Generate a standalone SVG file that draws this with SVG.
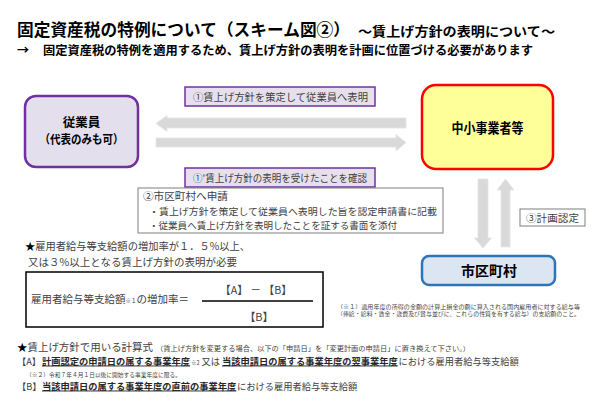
<svg xmlns="http://www.w3.org/2000/svg" width="600" height="402" viewBox="0 0 600 402">
<style>
text{font-family:"Noto Sans CJK JP","Noto Sans",sans-serif;fill:#404040}
.b{font-weight:700;fill:#000}
.lbl{font-size:10px}
.arrow{fill:#D9D9D9;stroke:#E4E4E4;stroke-width:0.8}
.pbox{fill:#E6E0EC;stroke:#7030A0;stroke-width:1.5}
.gbox{fill:#fff;stroke:#7F7F7F;stroke-width:1}
.u{text-decoration:underline;font-weight:700;fill:#262626}
.f{font-size:9.25px}
</style>
<rect width="600" height="402" fill="#fff"/>
<g id="title">
<text class="b" x="17" y="36" font-size="16.5" textLength="333" lengthAdjust="spacingAndGlyphs">固定資産税の特例について（スキーム図②）</text>
<text class="b" x="358" y="36" font-size="13" textLength="197" lengthAdjust="spacingAndGlyphs">～賃上げ方針の表明について～</text>
<text class="b" x="17" y="55" font-size="12">→</text>
<text class="b" x="43" y="55" font-size="12.2" textLength="490" lengthAdjust="spacingAndGlyphs">固定資産税の特例を適用するため、賃上げ方針の表明を計画に位置づける必要があります</text>
</g>
<g id="employee">
<rect x="25" y="96" width="113" height="71" rx="11" fill="#E4DFEC" stroke="#7030A0" stroke-width="2.5"/>
<text class="b" x="81.5" y="127" font-size="12.5" text-anchor="middle" fill="#262626">従業員</text>
<text class="b" x="81.5" y="144" font-size="12" text-anchor="middle" textLength="84" lengthAdjust="spacingAndGlyphs">（代表のみも可）</text>
</g>
<g id="sme">
<rect x="422" y="85" width="131" height="84" rx="14" fill="#FFFF99" stroke="#FF0000" stroke-width="2.5"/>
<text class="b" x="487.5" y="132.5" font-size="13.5" text-anchor="middle" textLength="72" lengthAdjust="spacingAndGlyphs">中小事業者等</text>
</g>
<g id="municipality">
<rect x="422" y="256" width="133" height="29" rx="7" fill="#DCE6F2" stroke="#2E75B6" stroke-width="2.5"/>
<text class="b" x="489" y="276" font-size="14" text-anchor="middle" textLength="56" lengthAdjust="spacingAndGlyphs">市区町村</text>
</g>
<g id="connectors">
<polygon class="arrow" points="156,123.5 167,115.5 167,118 406,118 406,128 167,128 167,131.5"/>
<polygon class="arrow" points="156,138 396,138 396,134.5 406,142.5 396,151 396,147 156,147"/>
<polygon class="arrow" points="478,179 488,179 488,238 491.5,238 483,248 474.5,238 478,238"/>
<polygon class="arrow" points="505.5,179 514,190 510,190 510,247 501,247 501,190 497,190"/>
</g>
<g id="label1">
<rect class="pbox" x="185" y="87" width="190" height="19"/>
<text class="lbl" x="193" y="100.5" textLength="175" lengthAdjust="spacingAndGlyphs">①賃上げ方針を策定して従業員へ表明</text>
</g>
<g id="label2">
<rect class="pbox" x="185" y="168" width="190" height="19"/>
<text class="lbl" x="193" y="181.5" textLength="174" lengthAdjust="spacingAndGlyphs">①'賃上げ方針の表明を受けたことを確認</text>
</g>
<g id="label3">
<rect class="gbox" x="520" y="209" width="65" height="17"/>
<text class="lbl" x="526" y="221.5" font-size="10.5" textLength="53" lengthAdjust="spacingAndGlyphs">③計画認定</text>
</g>
<g id="apply">
<rect class="gbox" x="138" y="188" width="305" height="45"/>
<text x="143" y="200" font-size="10.5" textLength="85" lengthAdjust="spacingAndGlyphs">②市区町村へ申請</text>
<text x="149" y="215" font-size="9.6" textLength="288" lengthAdjust="spacingAndGlyphs">・賃上げ方針を策定して従業員へ表明した旨を認定申請書に記載</text>
<text x="149" y="228.5" font-size="9.6" textLength="248" lengthAdjust="spacingAndGlyphs">・従業員へ賃上げ方針を表明したことを証する書面を添付</text>
</g>
<g id="requirement">
<text x="25" y="250" font-size="10.5" textLength="225" lengthAdjust="spacingAndGlyphs"><tspan fill="#000">★</tspan>雇用者給与等支給額の増加率が１．５%以上、</text>
<text x="28" y="266" font-size="10.5" textLength="209" lengthAdjust="spacingAndGlyphs">又は３%以上となる賃上げ方針の表明が必要</text>
</g>
<g id="formula">
<rect x="26" y="272" width="297" height="55" fill="#fff" stroke="#000" stroke-width="1.5"/>
<text x="31" y="303" font-size="10.5">雇用者給与等支給額<tspan font-size="5.5">※１</tspan>の増加率＝</text>
<line x1="202" y1="301" x2="313" y2="301" stroke="#000" stroke-width="1.5"/>
<text x="256" y="294" font-size="11" text-anchor="middle" fill="#262626" textLength="72" lengthAdjust="spacingAndGlyphs">【A】 － 【B】</text>
<text x="259" y="321" font-size="11" text-anchor="middle" fill="#262626">【B】</text>
</g>
<g id="footnote1">
<text x="337" y="309" font-size="5.5" textLength="243" lengthAdjust="spacingAndGlyphs">（※１）適用年度の所得の金額の計算上損金の額に算入される国内雇用者に対する給与等</text>
<text x="337" y="315.5" font-size="5.5" textLength="243" lengthAdjust="spacingAndGlyphs">（俸給・給料・賃金・歳費及び賞与並びに、これらの性質を有する給与）の支給額のこと。</text>
</g>
<g id="calc">
<text x="17" y="351" font-size="10.5" textLength="136" lengthAdjust="spacingAndGlyphs"><tspan fill="#000">★</tspan>賃上げ方針で用いる計算式</text>
<text x="156" y="350.5" font-size="6.5" textLength="314" lengthAdjust="spacingAndGlyphs">（賃上げ方針を変更する場合、以下の「申請日」を「変更計画の申請日」に置き換えて下さい。）</text>
<text class="f" x="17" y="364.5">【A】</text>
<text class="f u" x="42" y="364.5">計画認定の申請日の属する事業年度</text>
<text x="191" y="364.5" font-size="5.5">※2</text>
<text class="f" x="201.5" y="364.5">又は</text>
<text class="f u" x="222" y="364.5">当該申請日の属する事業年度の翌事業年度</text>
<text class="f" x="398.5" y="364.5">における雇用者給与等支給額</text>
<text x="26" y="376.5" font-size="5.5" textLength="155" lengthAdjust="spacingAndGlyphs">（※２）令和７年４月１日以後に開始する事業年度に限る。</text>
<text class="f" x="17" y="389.5">【B】</text>
<text class="f u" x="42" y="389.5">当該申請日の属する事業年度の直前の事業年度</text>
<text class="f" x="237" y="389.5">における雇用者給与等支給額</text>
</g>
</svg>
